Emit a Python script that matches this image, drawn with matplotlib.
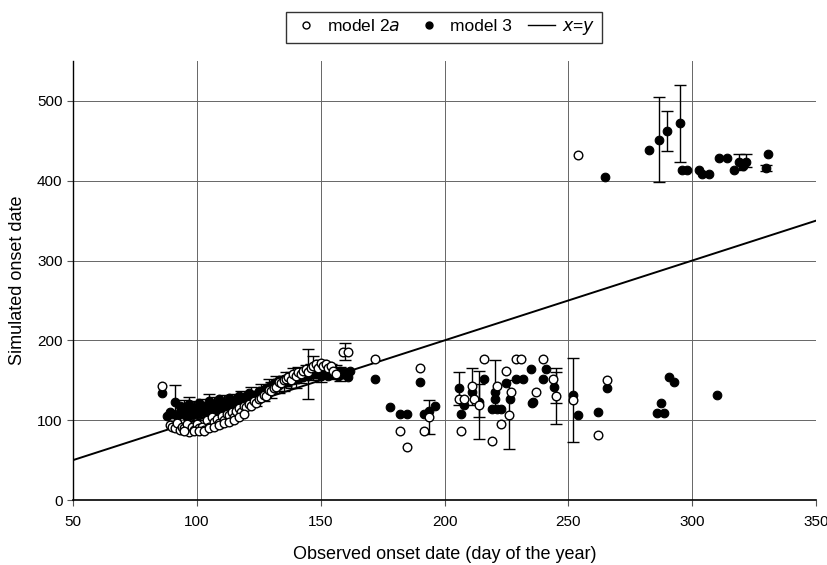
import matplotlib
matplotlib.use("Agg")
import matplotlib.pyplot as plt
from matplotlib.lines import Line2D

plt.rcParams['font.family'] = ['Liberation Sans', 'DejaVu Sans']

# ---- data: model 2a (open circles) ----
m2a_x = [86, 89, 90, 91, 92, 93, 94, 95, 96, 97, 98, 99, 100, 101, 102, 103, 104, 105,
         106, 107, 108, 109, 110, 111, 112, 113, 114, 115, 116, 117, 118, 119, 120, 121,
         122, 123, 124, 125, 126, 127, 128, 129, 130, 131, 132, 133, 134, 135, 136, 137,
         138, 139, 140, 141, 142, 143, 144, 145, 146, 147, 148, 149, 150, 151, 152, 153,
         154, 155, 156, 159, 161,
         95, 99, 101, 103, 105, 107, 109, 111, 113, 115, 117, 119,
         172, 182, 185, 190, 191.8, 193.9, 206.6, 205.8, 208, 211, 212, 214, 216, 221,
         223, 219, 225, 227, 226, 228.7, 230.9, 237, 239.9, 243.9, 245, 251.7, 254,
         261.8, 265.7]
m2a_y = [143, 94, 92, 90, 96, 88, 92, 90, 95, 85, 92, 88, 95, 90, 92, 88, 100, 92,
         104, 98, 102, 96, 105, 100, 108, 106, 110, 104, 112, 115, 110, 118, 116, 120,
         118, 124, 122, 126, 128, 132, 130, 138, 136, 140, 142, 148, 146, 150, 152, 154,
         150, 158, 156, 160, 158, 162, 164, 160, 166, 168, 170, 166, 172, 168, 170, 165,
         168, 162, 158, 186, 186,
         86, 86, 87, 86, 90, 92, 94, 96, 98, 100, 104, 108,
         177, 87, 67, 165, 87, 104, 87, 126, 126, 143, 126, 119, 177, 143,
         95, 74, 162, 135, 106, 177, 177, 135, 177, 152, 130, 125, 432,
         81, 150]

# ---- data: model 3 (filled circles) ----
m3_x = [86, 88, 89, 90, 91, 92, 93, 94, 95, 96, 97, 98, 99, 100, 101, 102, 103, 104,
        105, 106, 107, 108, 109, 110, 111, 112, 113, 114, 115, 116, 117, 118, 119, 120,
        121, 122, 123, 124, 125, 126, 127, 128, 129, 130, 131, 132, 133, 134, 135, 136,
        137, 138, 139, 140, 141, 142, 143, 144, 145, 146, 147, 148, 149, 150, 151, 152,
        153, 154, 155, 156, 157, 158, 159, 160, 161, 162,
        93, 95, 97, 99, 101, 103, 105, 107, 109, 111, 113, 115, 117, 119, 121, 123, 125,
        127, 129, 131, 133, 135, 137, 139, 141, 143, 145, 147, 149, 151, 153, 155, 157, 159,
        172, 178, 182, 185, 190, 191.8, 193.9, 196, 206.6, 205.8, 208, 211, 214, 216,
        219, 221, 223, 220.4, 220.4, 225, 226.4, 229, 231.5, 234.8, 235.8, 235.2, 240.8,
        239.9, 244.2, 251.7, 254, 261.8, 265.7, 285.6, 288.7, 287.6, 290.7, 292.7, 309.9,
        265, 282.7, 286.7, 290, 295, 296, 297.9, 302.7, 303.8, 306.9, 310.8, 313.9,
        316.7, 318.9, 321.7, 320.6, 329.8, 330.8]
m3_y = [134, 105, 110, 108, 123, 105, 110, 108, 116, 104, 110, 106, 112, 108, 114, 110, 116, 112,
        118, 114, 116, 118, 112, 120, 116, 122, 118, 124, 120, 126, 122, 128, 124, 130,
        126, 132, 128, 130, 134, 132, 136, 140, 138, 142, 140, 146, 144, 148, 146, 150,
        148, 152, 150, 154, 152, 156, 154, 158, 156, 160, 158, 158, 160, 156, 158, 160,
        156, 160, 158, 160, 156, 162, 158, 160, 154, 162,
        118, 112, 120, 115, 122, 118, 124, 120, 126, 122, 128, 124, 130, 128, 134, 132, 136,
        138, 142, 146, 150, 152, 154, 156, 158, 160, 162, 164, 164, 162, 164, 162, 160, 158,
        152, 117, 108, 108, 148, 108, 111, 118, 108, 140, 119, 135, 123, 152,
        114, 114, 114, 135, 127, 146, 127, 152, 152, 164, 123, 121, 164,
        152, 141, 132, 107, 110, 140, 109, 109, 121, 154, 148, 132,
        405, 439, 451, 462, 472, 414, 414, 414, 408, 409, 428, 428,
        414, 424, 424, 419, 416, 434]

# ---- error bars (x, centre, low, high) ----
err_x = [91, 95, 97, 99, 100, 102, 103, 104, 105, 106, 107, 108, 110, 111, 113, 115, 117,
         118, 120, 122, 124, 126, 127, 129, 130, 132, 133, 135, 136, 138, 139, 140, 141,
         142, 144, 145, 146, 147, 149, 150, 152, 154, 156, 158, 160,
         193.9, 205.8, 211, 214, 214, 220.4, 226, 245, 245, 251.7,
         286.7, 290, 295, 318.9, 321.7, 329.8]
err_c = [123, 116, 120, 115, 110, 118, 114, 100, 124, 112, 120, 102, 116, 122, 118, 124, 122,
         128, 126, 132, 128, 136, 134, 142, 138, 146, 144, 146, 152, 150, 156, 152, 158,
         156, 160, 158, 162, 160, 164, 160, 164, 162, 160, 158, 186,
         111, 140, 135, 123, 125, 135, 107, 130, 140, 132,
         451, 462, 472, 424, 424, 416]
err_lo = [109, 107, 111, 106, 100, 109, 104, 88, 115, 102, 111, 90, 106, 113, 108, 115, 112,
          119, 116, 123, 118, 127, 124, 133, 128, 137, 134, 136, 143, 140, 147, 140, 149,
          146, 151, 127, 153, 150, 155, 148, 155, 153, 151, 149, 176,
          83, 119, 119, 76, 104, 114, 64, 95, 122, 73,
          399, 437, 424, 414, 417, 412]
err_hi = [144, 125, 129, 124, 118, 127, 122, 112, 133, 120, 129, 114, 124, 131, 126, 133, 130,
          137, 134, 141, 136, 145, 142, 151, 148, 155, 152, 155, 161, 160, 165, 162, 167,
          166, 169, 189, 171, 180, 173, 175, 173, 171, 169, 167, 197,
          125, 160, 165, 162, 145, 175, 150, 166, 160, 178,
          505, 487, 520, 434, 433, 420]

line_x = [50, 350]

fig = plt.figure(figsize=(8.28, 5.65), dpi=100)
ax = fig.add_axes([0.0882, 0.115, 0.8973, 0.777])

ax.set_xlim(50, 350)
ax.set_ylim(0, 550)
ax.set_xticks([50, 100, 150, 200, 250, 300, 350])
ax.set_yticks([0, 100, 200, 300, 400, 500])
ax.grid(True, color='#666666', linewidth=0.7)
ax.set_axisbelow(True)
for s in ['top', 'right']:
    ax.spines[s].set_visible(False)
ax.spines['left'].set_linewidth(1.0)
ax.spines['bottom'].set_linewidth(1.2)
ax.tick_params(axis='both', labelsize=11, length=4, direction='out', color='#555555')
ax.tick_params(axis='x', pad=7)

lo = [c - l for c, l in zip(err_c, err_lo)]
hi = [h - c for c, h in zip(err_c, err_hi)]
ax.errorbar(err_x, err_c, yerr=[lo, hi], fmt='none', ecolor='black', elinewidth=1.0,
            capsize=4.5, capthick=1.0, zorder=2)

ax.plot(line_x, line_x, color='black', linewidth=1.4, zorder=3)

ax.plot(m3_x, m3_y, 'o', color='black', markersize=6.2, markeredgewidth=0.8,
        linestyle='none', zorder=4)
ax.plot(m2a_x, m2a_y, 'o', markerfacecolor='white', markeredgecolor='black',
        markersize=6.2, markeredgewidth=1.0, linestyle='none', zorder=5)

ax.set_xlabel('Observed onset date (day of the year)', fontsize=13, labelpad=12)
ax.set_ylabel('Simulated onset date', fontsize=13, labelpad=8)

handles = [
    Line2D([], [], marker='o', linestyle='none', markerfacecolor='white',
           markeredgecolor='black', markersize=5, markeredgewidth=1.0),
    Line2D([], [], marker='o', linestyle='none', color='black', markersize=5),
    Line2D([], [], color='black', linewidth=1.0),
]
labels = ['model 2$\\it{a}$', 'model 3', '$\\it{x}$=$\\it{y}$']
leg = fig.legend(handles, labels, loc='upper center', bbox_to_anchor=(0.536, 0.995),
                 ncol=3, frameon=True, fancybox=False, edgecolor='black', fontsize=12.5,
                 handlelength=1.6, handletextpad=0.4, columnspacing=0.9,
                 borderpad=0.35)
leg.get_frame().set_linewidth(1.0)

fig.savefig('out.png', dpi=100)
